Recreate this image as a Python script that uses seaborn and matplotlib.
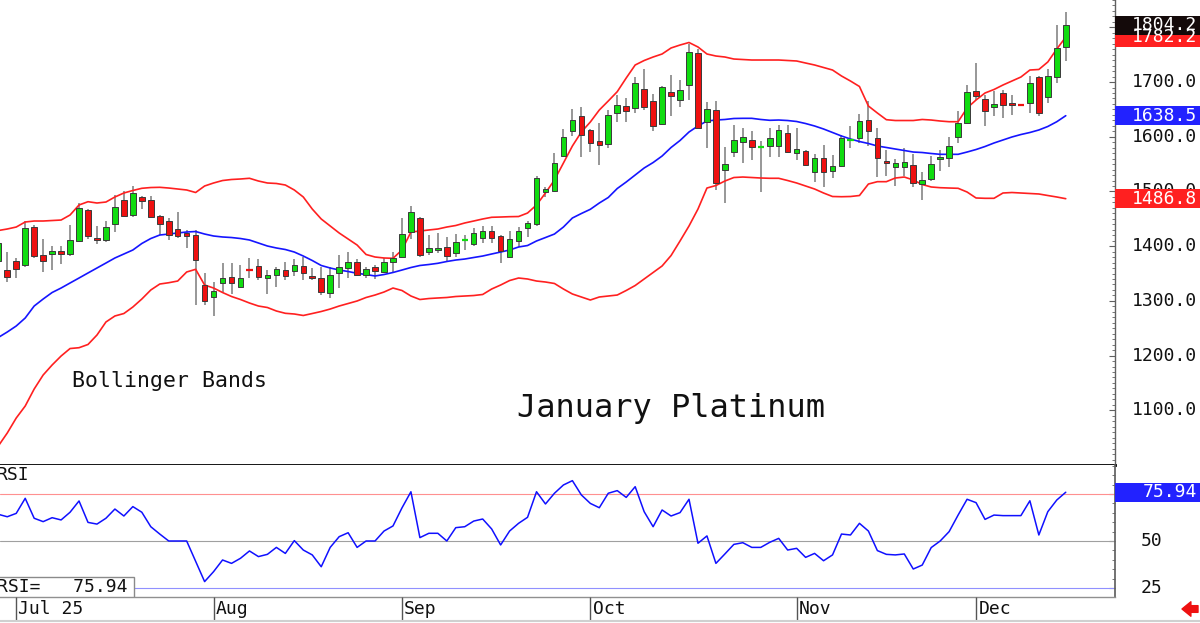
import numpy as np
import pandas as pd
import matplotlib
matplotlib.use("Agg")
import matplotlib.pyplot as plt
import seaborn as sns
from matplotlib.transforms import blended_transform_factory
from matplotlib.patches import Rectangle, FancyArrowPatch
from matplotlib.ticker import MultipleLocator

# ---------------- data ----------------
open_ = [1372.0, 1356.4, 1372.9, 1365.6, 1435.6, 1383.9, 1385.1, 1390.6, 1385.1, 1410.0,
         1466.1, 1415.5, 1411.3, 1440.5, 1484.4, 1457.0, 1490.4, 1484.4, 1455.7, 1446.6,
         1430.8, 1424.6, 1420.4, 1329.0, 1307.6, 1332.1, 1344.2, 1325.9, 1358.3, 1364.3,
         1342.4, 1346.7, 1356.4, 1354.6, 1364.3, 1345.5, 1342.4, 1314.9, 1350.4, 1359.5,
         1371.6, 1347.3, 1361.4, 1352.2, 1370.5, 1379.7, 1425.4, 1451.0, 1388.8, 1393.0,
         1399.0, 1386.9, 1409.5, 1403.4, 1415.5, 1428.3, 1418.6, 1380.7, 1410.0, 1434.1,
         1440.5, 1499.6, 1501.4, 1564.8, 1610.5, 1637.9, 1612.4, 1592.8, 1586.8, 1644.0,
         1656.2, 1652.0, 1686.8, 1665.4, 1622.8, 1681.3, 1667.2, 1694.6, 1752.6, 1627.5,
         1648.9, 1539.2, 1572.7, 1589.9, 1594.6, 1580.0, 1583.7, 1583.7, 1607.4, 1569.8,
         1574.5, 1536.1, 1561.7, 1537.4, 1546.6, 1593.5, 1597.2, 1630.6, 1597.2, 1556.2,
         1545.3, 1544.2, 1548.4, 1513.6, 1523.3, 1558.8, 1561.7, 1599.0, 1624.6, 1684.2,
         1668.5, 1653.9, 1680.5, 1661.2, 1659.9, 1661.2, 1709.8, 1672.1, 1708.7, 1763.5]
high = [1429.6, 1389.9, 1377.8, 1446.6, 1438.0, 1412.6, 1400.3, 1400.3, 1438.7, 1478.4,
        1468.0, 1437.4, 1446.6, 1493.5, 1501.4, 1510.5, 1491.7, 1491.7, 1456.5, 1451.0,
        1463.0, 1429.6, 1429.6, 1350.4, 1335.1, 1369.8, 1369.8, 1365.6, 1377.8, 1376.0,
        1356.4, 1362.5, 1371.6, 1376.0, 1379.7, 1359.5, 1362.5, 1362.5, 1383.9, 1389.9,
        1376.0, 1362.5, 1365.6, 1377.8, 1389.9, 1451.0, 1473.4, 1453.9, 1420.4, 1424.6,
        1417.3, 1422.2, 1420.4, 1432.7, 1436.9, 1436.9, 1420.0, 1427.7, 1435.6, 1446.0,
        1528.3, 1508.7, 1569.8, 1613.6, 1650.2, 1653.9, 1613.5, 1625.7, 1648.9, 1676.3,
        1670.3, 1709.8, 1723.3, 1677.6, 1692.8, 1712.9, 1703.8, 1769.6, 1759.9, 1664.1,
        1665.9, 1580.7, 1621.5, 1616.0, 1610.2, 1592.3, 1616.6, 1621.5, 1621.5, 1615.5,
        1575.5, 1567.9, 1584.9, 1566.7, 1603.2, 1619.7, 1641.6, 1665.4, 1616.6, 1575.8,
        1558.8, 1578.9, 1568.1, 1534.7, 1564.8, 1575.8, 1600.1, 1647.1, 1694.6, 1735.4,
        1676.3, 1683.7, 1685.5, 1676.3, 1660.5, 1711.1, 1711.1, 1723.3, 1804.3, 1827.5]
low = [1353.3, 1335.1, 1341.3, 1362.5, 1378.4, 1353.3, 1356.4, 1366.9, 1382.0, 1408.2,
       1412.6, 1404.0, 1408.2, 1425.4, 1453.9, 1453.9, 1467.4, 1452.0, 1420.4, 1411.3,
       1414.4, 1396.1, 1292.5, 1292.5, 1272.4, 1315.7, 1312.6, 1323.0, 1341.3, 1338.2,
       1312.6, 1325.9, 1338.2, 1345.5, 1338.2, 1338.2, 1310.7, 1304.7, 1323.0, 1341.3,
       1345.5, 1341.3, 1339.4, 1350.4, 1351.5, 1377.8, 1412.6, 1379.7, 1383.9, 1386.9,
       1371.6, 1379.7, 1393.0, 1400.3, 1406.3, 1406.3, 1368.7, 1379.7, 1397.9, 1417.3,
       1436.9, 1490.4, 1499.6, 1563.6, 1601.4, 1562.5, 1572.7, 1548.4, 1578.9, 1627.5,
       1627.5, 1642.9, 1648.9, 1610.5, 1621.5, 1637.9, 1654.9, 1667.2, 1615.5, 1578.9,
       1502.7, 1478.4, 1563.6, 1552.6, 1558.4, 1499.6, 1563.6, 1563.6, 1569.8, 1557.5,
       1546.6, 1517.9, 1508.7, 1524.1, 1545.3, 1578.9, 1588.0, 1583.1, 1527.0, 1528.3,
       1510.0, 1528.8, 1508.2, 1485.0, 1518.6, 1538.0, 1544.2, 1589.1, 1623.3, 1667.2,
       1619.7, 1637.9, 1633.7, 1639.8, 1658.0, 1642.9, 1637.9, 1662.3, 1698.8, 1739.0]
close = [1405.0, 1343.1, 1358.3, 1433.8, 1382.0, 1373.4, 1391.7, 1385.1, 1411.3, 1469.2,
         1418.6, 1411.3, 1434.5, 1472.2, 1455.7, 1496.7, 1482.6, 1453.9, 1440.0, 1420.4,
         1419.1, 1419.1, 1374.7, 1300.3, 1318.6, 1342.4, 1333.2, 1342.4, 1357.0, 1344.2,
         1346.7, 1357.7, 1346.0, 1365.6, 1350.4, 1342.4, 1316.8, 1347.3, 1362.5, 1370.5,
         1347.3, 1357.7, 1355.2, 1370.5, 1378.9, 1421.7, 1463.0, 1383.9, 1396.1, 1396.1,
         1382.6, 1408.2, 1410.4, 1424.6, 1428.3, 1415.5, 1391.2, 1413.1, 1427.7, 1442.4,
         1524.6, 1504.0, 1552.6, 1600.1, 1630.6, 1603.2, 1588.0, 1584.4, 1639.8, 1658.1,
         1647.6, 1698.8, 1653.9, 1619.7, 1690.4, 1675.1, 1685.5, 1754.4, 1616.6, 1650.2,
         1514.9, 1549.8, 1594.6, 1599.0, 1580.7, 1581.8, 1597.2, 1612.4, 1572.7, 1577.6,
         1548.4, 1560.6, 1535.0, 1546.6, 1598.3, 1594.6, 1628.8, 1610.5, 1561.7, 1552.6,
         1551.5, 1553.9, 1514.9, 1521.5, 1549.8, 1563.6, 1583.7, 1625.7, 1682.4, 1674.5,
         1647.6, 1659.9, 1658.1, 1658.1, 1658.8, 1698.8, 1644.0, 1711.1, 1761.7, 1804.2]

upper_band = [1428.6, 1431.4, 1435.0, 1444.2, 1446.0, 1446.0, 1446.9, 1447.8, 1457.0, 1475.3,
              1481.3, 1478.9, 1480.7, 1489.9, 1497.2, 1501.8, 1505.8, 1507.2, 1507.6, 1506.3,
              1504.5, 1502.7, 1498.1, 1510.0, 1515.5, 1520.0, 1521.9, 1522.8, 1524.1, 1519.1,
              1515.5, 1514.6, 1511.8, 1502.7, 1489.9, 1467.9, 1449.7, 1436.9, 1424.1, 1413.1,
              1402.1, 1384.8, 1380.2, 1378.4, 1377.8, 1393.0, 1425.9, 1427.7, 1429.6, 1431.4,
              1435.0, 1437.8, 1442.4, 1446.0, 1449.7, 1452.8, 1453.3, 1453.9, 1454.2, 1460.6,
              1475.3, 1497.2, 1521.0, 1552.0, 1583.1, 1608.7, 1627.0, 1648.9, 1665.4, 1682.4,
              1707.4, 1731.2, 1739.4, 1745.8, 1751.3, 1762.3, 1767.7, 1772.3, 1764.1, 1751.3,
              1747.6, 1745.8, 1742.1, 1741.2, 1740.3, 1740.3, 1740.3, 1740.3, 1739.4, 1738.5,
              1734.8, 1731.2, 1726.6, 1722.0, 1711.1, 1701.9, 1691.9, 1656.2, 1643.4, 1631.2,
              1629.7, 1629.7, 1629.7, 1631.6, 1630.6, 1628.8, 1627.5, 1627.5, 1652.6, 1667.2,
              1680.0, 1686.4, 1694.6, 1701.9, 1709.2, 1722.0, 1723.0, 1736.7, 1760.4, 1782.2]
mid_band = [1233.1, 1243.1, 1254.1, 1268.7, 1290.6, 1303.4, 1315.3, 1323.5, 1332.7, 1341.8,
            1351.0, 1360.1, 1369.2, 1378.4, 1385.7, 1393.0, 1404.9, 1414.0, 1420.4, 1422.2,
            1424.1, 1425.9, 1426.8, 1422.2, 1418.6, 1416.8, 1415.8, 1414.0, 1411.3, 1405.8,
            1400.3, 1396.7, 1393.9, 1389.3, 1382.0, 1373.8, 1364.7, 1360.1, 1356.4, 1353.7,
            1350.4, 1348.2, 1345.5, 1348.2, 1351.9, 1356.4, 1361.0, 1364.7, 1366.5, 1368.7,
            1372.0, 1374.7, 1376.5, 1379.3, 1382.0, 1385.7, 1389.3, 1393.0, 1398.5, 1401.2,
            1409.5, 1415.8, 1422.2, 1435.0, 1451.5, 1459.7, 1467.4, 1478.9, 1489.0, 1505.4,
            1517.3, 1530.1, 1542.9, 1552.9, 1564.8, 1580.4, 1593.2, 1608.7, 1619.7, 1628.8,
            1630.6, 1631.6, 1633.4, 1633.7, 1633.7, 1631.6, 1630.1, 1630.6, 1629.7, 1627.9,
            1624.2, 1619.7, 1614.2, 1607.8, 1601.4, 1595.9, 1591.3, 1587.7, 1583.1, 1580.4,
            1577.6, 1574.9, 1572.1, 1571.2, 1569.4, 1567.9, 1567.9, 1567.9, 1572.1, 1576.7,
            1582.2, 1588.6, 1594.1, 1599.6, 1604.1, 1607.8, 1612.4, 1618.8, 1627.5, 1638.5]
lower_band = [1034.7, 1058.5, 1085.9, 1107.8, 1138.9, 1164.5, 1182.8, 1199.2, 1212.9, 1214.4,
              1220.3, 1237.6, 1261.4, 1272.4, 1276.9, 1288.8, 1303.4, 1319.9, 1330.8, 1333.2,
              1336.3, 1352.8, 1357.7, 1329.0, 1323.5, 1315.3, 1308.0, 1302.5, 1296.1, 1290.6,
              1287.9, 1281.5, 1277.3, 1276.0, 1273.3, 1276.9, 1280.6, 1285.1, 1290.6, 1295.2,
              1299.8, 1306.2, 1310.7, 1316.2, 1323.5, 1319.0, 1308.9, 1302.5, 1304.3, 1305.3,
              1306.2, 1308.0, 1308.9, 1309.8, 1311.7, 1321.7, 1329.0, 1337.2, 1341.8, 1340.0,
              1336.3, 1334.5, 1331.8, 1321.7, 1312.6, 1307.1, 1301.6, 1307.1, 1308.9, 1310.7,
              1319.0, 1328.1, 1340.0, 1351.9, 1363.8, 1382.9, 1409.5, 1436.9, 1467.9, 1506.3,
              1510.9, 1519.1, 1525.5, 1526.4, 1525.5, 1524.6, 1524.1, 1524.1, 1520.0, 1515.5,
              1510.0, 1504.5, 1497.2, 1490.8, 1490.4, 1490.8, 1492.6, 1513.6, 1517.9, 1517.9,
              1524.6, 1526.4, 1521.0, 1512.7, 1508.2, 1506.9, 1506.3, 1505.8, 1499.0, 1488.1,
              1487.5, 1487.5, 1497.2, 1498.1, 1497.2, 1496.3, 1495.4, 1492.6, 1489.9, 1486.8]

rsi = [64.2, 62.9, 64.7, 72.7, 62.1, 60.3, 62.4, 61.2, 65.3, 71.3,
       59.9, 59.0, 62.1, 67.0, 63.3, 68.3, 65.3, 57.6, 53.7, 50.0,
       50.0, 50.0, 39.2, 28.4, 33.7, 39.9, 38.1, 40.8, 44.7, 41.7,
       42.9, 46.6, 43.4, 50.2, 45.2, 42.6, 36.3, 46.6, 52.3, 54.4,
       46.6, 50.0, 50.0, 55.3, 58.0, 67.6, 76.2, 51.8, 54.1, 54.1,
       50.0, 57.1, 57.6, 60.6, 61.7, 56.4, 47.9, 55.3, 59.4, 62.6,
       76.2, 69.7, 75.4, 79.8, 82.1, 74.5, 70.0, 67.7, 75.4, 76.8,
       73.2, 78.9, 65.6, 57.6, 66.5, 63.3, 65.1, 72.2, 48.8, 52.7,
       38.1, 43.1, 48.2, 49.1, 46.6, 46.6, 49.3, 51.4, 45.2, 46.1,
       41.3, 43.4, 39.5, 42.6, 53.7, 53.2, 59.4, 55.3, 44.9, 42.9,
       42.6, 43.1, 35.1, 37.2, 46.5, 50.0, 55.0, 63.8, 72.2, 70.4,
       61.5, 63.8, 63.5, 63.5, 63.5, 71.4, 53.2, 65.6, 71.8, 75.94]

month_pos = [2, 24, 45, 66, 89, 109]
month_labels = ["Jul 25", "Aug", "Sep", "Oct", "Nov", "Dec"]
price_ticks = [1100, 1200, 1300, 1400, 1500, 1600, 1700, 1800]
rsi_ticks = [25, 50]
rsi_levels = [75, 50, 25]

# ---------------- styling ----------------
sns.set_theme(style="white")
plt.rcParams["font.family"] = ["DejaVu Sans Mono", "DejaVu Sans"]

W, H = 1200, 623
PLOT_R = 1115
fig = plt.figure(figsize=(W / 100, H / 100), dpi=100)
fig.patch.set_facecolor("white")

ax = fig.add_axes([0, (H - 465) / H, PLOT_R / W, 465 / H])
ax_r = fig.add_axes([0, (H - 597) / H, PLOT_R / W, 132 / H])
ax_d = fig.add_axes([0, (H - 620) / H, PLOT_R / W, 23 / H])

XL = (0.19, 124.49)
GREEN = "#10dc10"
RED = "#ee1010"
BAND_RED = "#ff2020"
BAND_BLUE = "#1515ff"

n = len(close)
idx = np.arange(n)
df = pd.DataFrame({"idx": idx, "open": open_, "high": high, "low": low, "close": close,
                   "upper": upper_band, "mid": mid_band, "lower": lower_band, "rsi": rsi})

# ---- candles ----
up = df["close"] >= df["open"]
col = np.where(up, GREEN, RED)
ax.vlines(df["idx"], df["low"], df["high"], color="#7a7a7a", lw=1.1, zorder=2)
body = (df["close"] - df["open"]).abs()
doji = body < 2.0
nd = ~doji
ax.bar(df["idx"][nd], body[nd], bottom=np.minimum(df["open"], df["close"])[nd],
       width=0.62, color=col[nd.values], edgecolor="#3a3a3a", linewidth=0.7, zorder=4)
ax.hlines(df["close"][doji], df["idx"][doji] - 0.36, df["idx"][doji] + 0.36,
          color=col[doji.values], lw=1.6, zorder=4)

# ---- Bollinger bands ----
for key, c in (("upper", BAND_RED), ("mid", BAND_BLUE), ("lower", BAND_RED)):
    sns.lineplot(data=df, x="idx", y=key, color=c, linewidth=1.2, ax=ax, zorder=3)

ax.set_xlim(*XL)
ax.set_ylim(1000, 1850)
ax.set_xlabel("")
ax.set_ylabel("")
ax.set_xticks([])
for s in ("top", "left"):
    ax.spines[s].set_visible(False)
ax.spines["bottom"].set_color("black")
ax.spines["bottom"].set_linewidth(2.0)
ax.spines["right"].set_color("#606060")
ax.spines["right"].set_linewidth(1.0)
ax.yaxis.set_ticks_position("right")
ax.yaxis.set_major_locator(MultipleLocator(100))
ax.yaxis.set_minor_locator(MultipleLocator(10))
ax.tick_params(axis="y", which="major", direction="in", length=4, width=0.8,
               color="#606060", labelright=False, labelleft=False)
ax.tick_params(axis="y", which="minor", direction="in", length=2.5, width=0.6,
               color="#606060")

tr = blended_transform_factory(ax.transAxes, ax.transData)
LAB_X = 1197 / PLOT_R
BOX_W = W / PLOT_R - 1.0
FS = 13
for v in price_ticks:
    ax.text(LAB_X, v, f"{v:.1f}", transform=tr, ha="right", va="center",
            fontsize=FS, color="#111111", clip_on=False, zorder=5)

px_per_price = 465 / 850.0
box_h = 19 / px_per_price


def value_box(axis, trans, value, text, face, h):
    axis.add_patch(Rectangle((1.0, value - h / 2), BOX_W, h, transform=trans,
                             facecolor=face, edgecolor="none", clip_on=False, zorder=6))
    axis.text(LAB_X, value, text, transform=trans, ha="right", va="center",
              fontsize=FS, color="white", clip_on=False, zorder=7)


value_box(ax, tr, upper_band[-1], f"{upper_band[-1]:.1f}", BAND_RED, box_h)
value_box(ax, tr, close[-1], f"{close[-1]:.1f}", "#140a0a", box_h)
value_box(ax, tr, mid_band[-1], f"{mid_band[-1]:.1f}", "#2222ff", box_h)
value_box(ax, tr, lower_band[-1], f"{lower_band[-1]:.1f}", BAND_RED, box_h)

ax.text(72 / PLOT_R, (465 - 381) / 465, "Bollinger Bands", transform=ax.transAxes,
        ha="left", va="center", fontsize=15.5, color="#111111")
ax.text(517 / PLOT_R, (465 - 408) / 465, "January Platinum", transform=ax.transAxes,
        ha="left", va="center", fontsize=23, color="#111111")

# ---- RSI panel ----
lvl_cols = {75: "#ff9090", 50: "#a0a0a0", 25: "#9090ff"}
for lv in rsi_levels:
    ax_r.axhline(lv, color=lvl_cols[lv], lw=0.8, zorder=1)
sns.lineplot(data=df, x="idx", y="rsi", color="#1010ff", linewidth=1.1, ax=ax_r, zorder=3)
ax_r.set_xlim(*XL)
ax_r.set_ylim(20.21, 90.43)
ax_r.set_xlabel("")
ax_r.set_ylabel("")
ax_r.set_xticks([])
for s in ("top", "left"):
    ax_r.spines[s].set_visible(False)
ax_r.spines["right"].set_color("#606060")
ax_r.spines["bottom"].set_color("#909090")
ax_r.spines["bottom"].set_linewidth(1.0)
ax_r.yaxis.set_ticks_position("right")
ax_r.yaxis.set_major_locator(MultipleLocator(25))
ax_r.yaxis.set_minor_locator(MultipleLocator(5))
ax_r.tick_params(axis="y", which="major", direction="in", length=4, width=0.8,
                 color="#606060", labelright=False, labelleft=False)
ax_r.tick_params(axis="y", which="minor", direction="in", length=2.5, width=0.6,
                 color="#606060")

tr_r = blended_transform_factory(ax_r.transAxes, ax_r.transData)
for v in rsi_ticks:
    ax_r.text(1162 / PLOT_R, v, f"{v}", transform=tr_r, ha="right", va="center",
              fontsize=FS, color="#111111", clip_on=False)
value_box(ax_r, tr_r, rsi[-1], f"{rsi[-1]:.2f}", "#2222ff", 19 / 1.88)

ax_r.text(-3 / PLOT_R, (597 - 475) / 132, "RSI", transform=ax_r.transAxes,
          ha="left", va="center", fontsize=FS, color="#111111")
ax_r.add_patch(Rectangle((-0.01, 0.0), 134 / PLOT_R + 0.01, 20 / 132, transform=ax_r.transAxes,
                         facecolor="white", edgecolor="#8a8a8a", lw=1.0, zorder=8))
ax_r.text(-3 / PLOT_R, 10 / 132, f"RSI=   {rsi[-1]:.2f}", transform=ax_r.transAxes,
          ha="left", va="center", fontsize=FS, color="#111111", zorder=9)

# ---- date strip ----
ax_d.set_xlim(*XL)
ax_d.set_ylim(0, 1)
ax_d.axis("off")
ax_d.vlines(month_pos, 0, 1, color="#555555", lw=1.0)
for p, lab in zip(month_pos, month_labels):
    ax_d.text(p + 0.25, 0.5, lab, ha="left", va="center", fontsize=FS, color="#111111")

fig.add_artist(plt.Line2D([0, 1], [(H - 621) / H] * 2, transform=fig.transFigure,
                          color="#d0d0d0", lw=1.5))
fig.add_artist(FancyArrowPatch(posA=(1198 / W, (H - 609) / H), posB=(1182 / W, (H - 609) / H),
                               transform=fig.transFigure, shrinkA=0, shrinkB=0,
                               arrowstyle="simple,head_length=0.8,head_width=1.3,tail_width=0.6",
                               mutation_scale=8, color="#ee1010"))

fig.savefig("out.png", dpi=100, facecolor="white")
